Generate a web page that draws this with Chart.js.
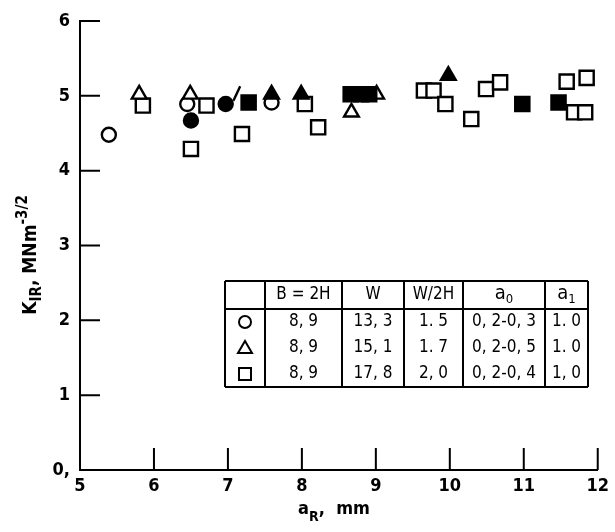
<!DOCTYPE html>
<html>
<head>
<meta charset="utf-8">
<script src="https://cdn.jsdelivr.net/npm/chart.js@4.4.0/dist/chart.umd.min.js"></script>
<style>
html, body { margin: 0; padding: 0; background: #fff; }
</style>
</head>
<body>
<canvas id="kChart" width="615" height="532"></canvas>
<script>
// axis ticks
var xTicks = [5, 6, 7, 8, 9, 10, 11, 12];
var yTicks = [0, 1, 2, 3, 4, 5, 6];

// K_IR vs a_R
var openCircleX = [5.39, 6.45, 7.59];
var openCircleY = [4.48, 4.89, 4.91];
var filledCircleX = [6.50, 6.97];
var filledCircleY = [4.67, 4.89];
var openTriX = [5.80, 6.49, 8.67, 9.01];
var openTriY = [5.02, 5.02, 4.78, 5.02];
var filledTriX = [7.59, 7.99, 9.98];
var filledTriY = [5.02, 5.02, 5.27];
var openSqX = [5.85, 6.50, 6.71, 7.19, 8.04, 8.22, 9.65, 9.78, 9.94, 10.29, 10.49, 10.68, 11.58, 11.68, 11.83, 11.85];
var openSqY = [4.87, 4.29, 4.87, 4.49, 4.89, 4.58, 5.07, 5.07, 4.89, 4.69, 5.09, 5.18, 5.19, 4.78, 4.78, 5.24];
var filledSqX = [7.28, 8.66, 8.80, 8.91, 10.98, 11.47];
var filledSqY = [4.91, 5.02, 5.02, 5.02, 4.89, 4.91];
var slashX = [7.12];
var slashY = [5.03];

// specimen table
var tableSymbols = ["circle", "triangle", "rect"];
var tableB = ["8, 9", "8, 9", "8, 9"];
var tableW = ["13, 3", "15, 1", "17, 8"];
var tableRatio = ["1. 5", "1. 7", "2, 0"];
var tableA0 = ["0, 2-0, 3", "0, 2-0, 5", "0, 2-0, 4"];
var tableA1 = ["1. 0", "1. 0", "1, 0"];

var FONT = '"Liberation Sans Narrow", "DejaVu Sans Condensed", "Liberation Sans", sans-serif';

function pts(xs, ys) {
    return xs.map(function (x, i) { return { x: x, y: ys[i] }; });
}

function marks(label, xs, ys, style, filled, radius, rotation) {
    return {
        label: label,
        data: pts(xs, ys),
        pointStyle: style,
        pointRadius: radius,
        pointRotation: rotation || 0,
        pointBorderWidth: 2.4,
        pointBorderColor: '#000',
        pointBackgroundColor: filled ? '#000' : '#fff',
        clip: false
    };
}

// tick marks drawn inward from the axes
var inwardTicks = {
    id: 'inwardTicks',
    beforeDatasetsDraw: function (chart) {
        var ctx = chart.ctx, xs = chart.scales.x, ys = chart.scales.y;
        ctx.save();
        ctx.strokeStyle = '#000';
        ctx.lineWidth = 2;
        ctx.beginPath();
        xTicks.forEach(function (v) {
            if (v === 5) return;
            var px = xs.getPixelForValue(v);
            ctx.moveTo(px, ys.bottom);
            ctx.lineTo(px, ys.bottom - 22);
        });
        yTicks.forEach(function (v) {
            if (v === 0) return;
            var py = ys.getPixelForValue(v);
            ctx.moveTo(xs.left, py);
            ctx.lineTo(xs.left + 20, py);
        });
        ctx.stroke();
        ctx.restore();
    }
};

function drawParts(ctx, parts, x, y, weight) {
    // parts: [text, size, dy]
    var w = 0;
    parts.forEach(function (p) { ctx.font = weight + ' ' + p[1] + 'px ' + FONT; w += ctx.measureText(p[0]).width; });
    var cx = x - w / 2;
    parts.forEach(function (p) {
        ctx.font = weight + ' ' + p[1] + 'px ' + FONT;
        ctx.fillText(p[0], cx, y + p[2]);
        cx += ctx.measureText(p[0]).width;
    });
}

var axisTitles = {
    id: 'axisTitles',
    afterDraw: function (chart) {
        var ctx = chart.ctx;
        ctx.save();
        ctx.fillStyle = '#000';
        ctx.textBaseline = 'alphabetic';
        ctx.textAlign = 'left';
        drawParts(ctx, [['a', 18, -4], ['R', 14, 3], [',  mm', 18, -4]], 334, 518, 'bold');
        ctx.translate(36, 255);
        ctx.rotate(-Math.PI / 2);
        drawParts(ctx, [['K', 19, 0], ['IR', 15, 5], [', MNm', 19, 0], ['-3/2', 15, -9]], 0, 0, 'bold');
        ctx.restore();
    }
};

function symbol(ctx, kind, x, y) {
    ctx.beginPath();
    if (kind === 'circle') {
        ctx.arc(x, y, 6, 0, Math.PI * 2);
    } else if (kind === 'triangle') {
        ctx.moveTo(x, y - 7);
        ctx.lineTo(x + 7, y + 5);
        ctx.lineTo(x - 7, y + 5);
        ctx.closePath();
    } else {
        ctx.rect(x - 6, y - 6, 12, 12);
    }
    ctx.stroke();
}

var specimenTable = {
    id: 'specimenTable',
    afterDraw: function (chart) {
        var ctx = chart.ctx;
        var cols = [225, 265, 342, 404, 463, 545, 588];
        var rows = [281, 309, 335, 361, 387];
        ctx.save();
        ctx.strokeStyle = '#000';
        ctx.lineWidth = 2;
        ctx.beginPath();
        cols.forEach(function (c) { ctx.moveTo(c, rows[0]); ctx.lineTo(c, rows[4]); });
        [rows[0], rows[1], rows[4]].forEach(function (r) { ctx.moveTo(cols[0], r); ctx.lineTo(cols[6], r); });
        ctx.stroke();

        ctx.fillStyle = '#000';
        ctx.textBaseline = 'middle';
        ctx.textAlign = 'left';
        var mid = function (i) { return (cols[i] + cols[i + 1]) / 2; };
        var hy = (rows[0] + rows[1]) / 2;
        drawParts(ctx, [['B = 2H', 17, 0]], mid(1), hy, 'normal');
        drawParts(ctx, [['W', 17, 0]], mid(2), hy, 'normal');
        drawParts(ctx, [['W/2H', 17, 0]], mid(3), hy, 'normal');
        drawParts(ctx, [['a', 20, -1], ['0', 13, 5]], mid(4), hy, 'normal');
        drawParts(ctx, [['a', 20, -1], ['1', 13, 5]], mid(5), hy, 'normal');

        ctx.lineWidth = 2;
        for (var i = 0; i < 3; i++) {
            var ry = rows[1] + 13 + i * 26;
            symbol(ctx, tableSymbols[i], mid(0), ry);
            drawParts(ctx, [[tableB[i], 17, 0]], mid(1), ry, 'normal');
            drawParts(ctx, [[tableW[i], 17, 0]], mid(2), ry, 'normal');
            drawParts(ctx, [[tableRatio[i], 17, 0]], mid(3), ry, 'normal');
            drawParts(ctx, [[tableA0[i], 17, 0]], mid(4), ry, 'normal');
            drawParts(ctx, [[tableA1[i], 17, 0]], mid(5), ry, 'normal');
        }
        ctx.restore();
    }
};

var ctx = document.getElementById('kChart').getContext('2d');
new Chart(ctx, {
    type: 'scatter',
    data: {
        datasets: [
            marks('filled triangle', filledTriX, filledTriY, 'triangle', true, 8.5),
            marks('slash', slashX, slashY, 'line', false, 8, -65),
            marks('filled circle', filledCircleX, filledCircleY, 'circle', true, 7),
            marks('filled square', filledSqX, filledSqY, 'rect', true, 10),
            marks('open triangle', openTriX, openTriY, 'triangle', false, 8.5),
            marks('open circle', openCircleX, openCircleY, 'circle', false, 7),
            marks('open square', openSqX, openSqY, 'rect', false, 10)
        ]
    },
    options: {
        responsive: false,
        animation: false,
        layout: { padding: { top: 21, right: 13, left: 0, bottom: 0 } },
        plugins: { legend: { display: false }, tooltip: { enabled: false } },
        scales: {
            x: {
                type: 'linear', min: 5, max: 12,
                afterBuildTicks: function (s) { s.ticks = xTicks.map(function (v) { return { value: v }; }); },
                afterFit: function (s) { s.height = 62; },
                grid: { display: false, drawTicks: false },
                border: { display: true, color: '#000', width: 2 },
                ticks: { color: '#000', padding: 6, maxRotation: 0, font: { family: FONT, size: 18, weight: 'bold' } }
            },
            y: {
                type: 'linear', min: 0, max: 6,
                afterBuildTicks: function (s) { s.ticks = yTicks.map(function (v) { return { value: v }; }); },
                afterFit: function (s) { s.width = 80; },
                grid: { display: false, drawTicks: false },
                border: { display: true, color: '#000', width: 2 },
                ticks: {
                    color: '#000', padding: 10, font: { family: FONT, size: 18, weight: 'bold' },
                    callback: function (v) { return v === 0 ? '0,' : String(v); }
                }
            }
        }
    },
    plugins: [inwardTicks, specimenTable, axisTitles]
});
</script>
</body>
</html>
